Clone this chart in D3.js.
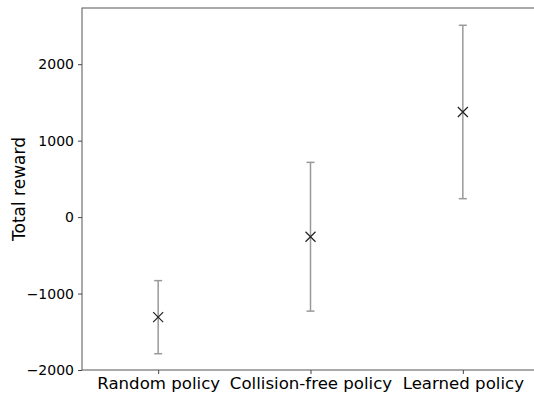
<!DOCTYPE html>
<html>
<head>
<meta charset="utf-8">
<script src="https://cdn.jsdelivr.net/npm/d3@7"></script>
<style>
  body { margin: 0; background: #fff; }
  svg text { font-family: "DejaVu Sans", sans-serif; fill: #000; }
</style>
</head>
<body>
<svg id="chart" width="534" height="397"></svg>
<script>
const categories = ['Random policy', 'Collision-free policy', 'Learned policy'];
const means = [-1309, -257, 1375];
const errors = [478, 973, 1134];
const yTicks = [-2000, -1000, 0, 1000, 2000];

const MARGIN = { TOP: 8, LEFT: 82, BOTTOM: 27 };
const W = 534, H = 397;
const plotRight = 539;

const svg = d3.select('#chart');

const x = d3.scalePoint()
  .domain(categories)
  .range([MARGIN.LEFT, plotRight])
  .padding(0.5);

const y = d3.scaleLinear()
  .domain([-2000, 2735])
  .range([H - MARGIN.BOTTOM, MARGIN.TOP]);

const data = categories.map((c, i) => ({ cat: c, mean: means[i], err: errors[i] }));

// frame
svg.append('rect')
  .attr('x', MARGIN.LEFT)
  .attr('y', MARGIN.TOP)
  .attr('width', plotRight - MARGIN.LEFT)
  .attr('height', y(-2000) - MARGIN.TOP)
  .attr('fill', 'none')
  .attr('stroke', '#555')
  .attr('stroke-width', 1);

// y axis
const yAxis = svg.append('g')
  .attr('transform', `translate(${MARGIN.LEFT},0)`)
  .call(d3.axisLeft(y).tickValues(yTicks).tickSize(4).tickPadding(4)
    .tickFormat(d => d < 0 ? '\u2212' + Math.abs(d) : d));
yAxis.select('.domain').remove();
yAxis.selectAll('line').attr('stroke', '#444');
yAxis.selectAll('text').style('font-size', '14px');

// x axis
const xAxis = svg.append('g')
  .attr('transform', `translate(0,${y(-2000)})`)
  .call(d3.axisBottom(x).tickSize(4).tickPadding(3));
xAxis.select('.domain').remove();
xAxis.selectAll('line').attr('stroke', '#444');
xAxis.selectAll('text').style('font-size', '16.6px');

// y label
svg.append('text')
  .attr('transform', `translate(25,${(MARGIN.TOP + y(-2000)) / 2}) rotate(-90)`)
  .attr('text-anchor', 'middle')
  .style('font-size', '17px')
  .text('Total reward');

// error bars
const g = svg.append('g').attr('class', 'errorbars');
const bars = g.selectAll('g').data(data).enter().append('g');
bars.append('line')
  .attr('x1', d => x(d.cat)).attr('x2', d => x(d.cat))
  .attr('y1', d => y(d.mean + d.err)).attr('y2', d => y(d.mean - d.err))
  .attr('stroke', '#999').attr('stroke-width', 1.5);
[1, -1].forEach(s => {
  bars.append('line')
    .attr('x1', d => x(d.cat) - 4).attr('x2', d => x(d.cat) + 4)
    .attr('y1', d => y(d.mean + s * d.err)).attr('y2', d => y(d.mean + s * d.err))
    .attr('stroke', '#999').attr('stroke-width', 1.5);
});

// markers
const m = 5;
bars.append('path')
  .attr('d', d => {
    const cx = x(d.cat), cy = y(d.mean);
    return `M${cx - m},${cy - m}L${cx + m},${cy + m}M${cx - m},${cy + m}L${cx + m},${cy - m}`;
  })
  .attr('stroke', '#222').attr('stroke-width', 1.2).attr('fill', 'none');
</script>
</body>
</html>
